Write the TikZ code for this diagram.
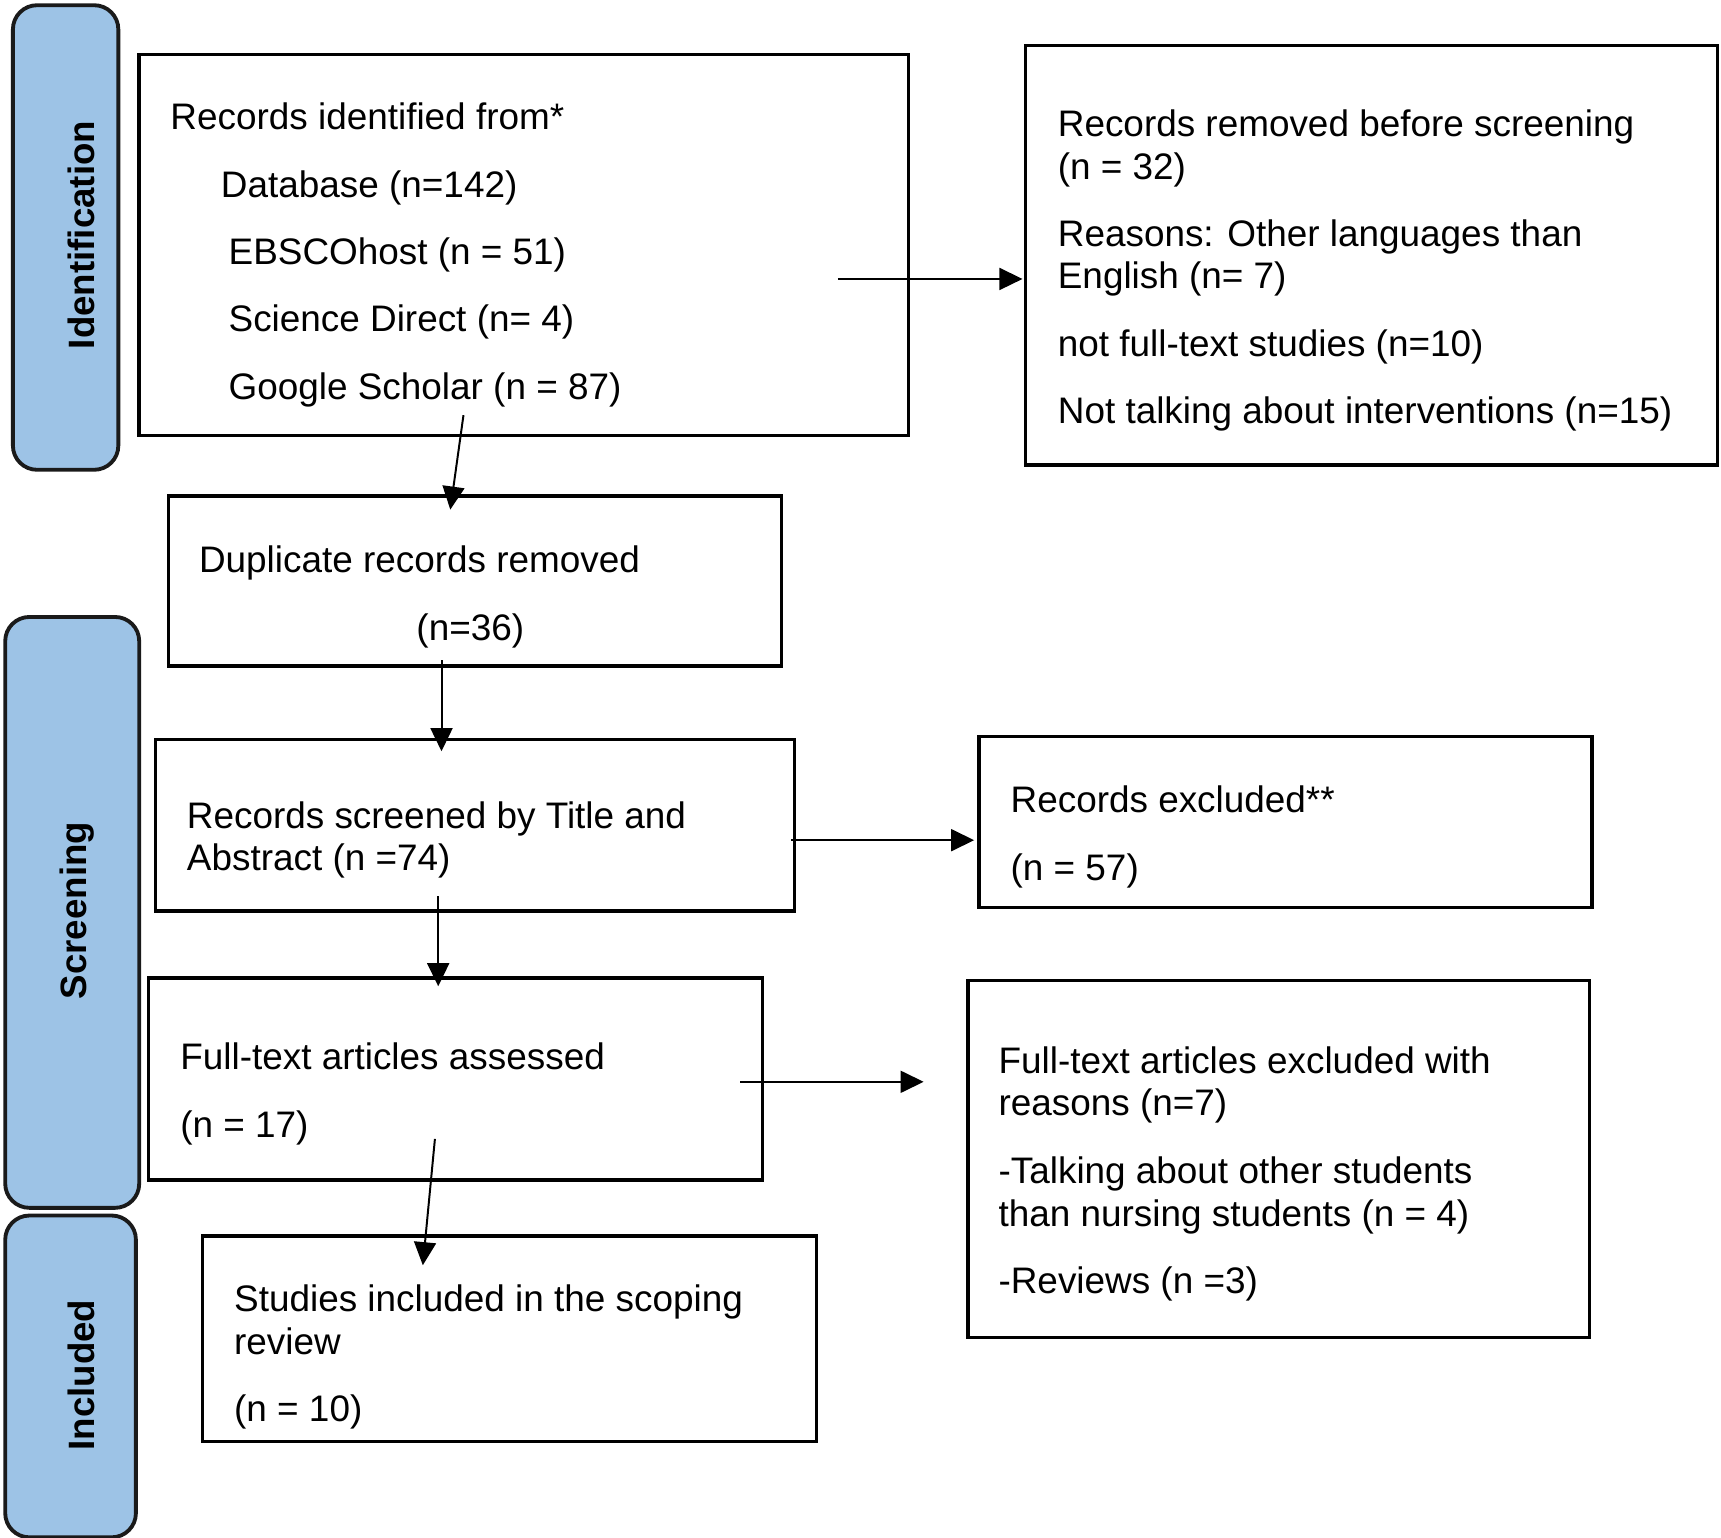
\documentclass[tikz,border=0pt]{standalone}
\usepackage{fontspec}
\setmainfont{Liberation Sans}
\usetikzlibrary{arrows.meta}
\definecolor{pillblue}{HTML}{9DC3E6}
\definecolor{pillline}{HTML}{1A1A1A}
\begin{document}
\begin{tikzpicture}[x=1pt,y=-1pt,
  box/.style={draw=black, line width=3pt, fill=white, inner sep=0pt, anchor=north west},
  pill/.style={draw=pillline, line width=3.5pt, fill=pillblue, rounded corners=22pt, inner sep=0pt, anchor=north west},
  txt/.style={inner sep=0pt, anchor=base west, font=\fontsize{33.6}{40}\selectfont},
  lbl/.style={inner sep=0pt, anchor=base, rotate=90, font=\fontsize{33.4}{40}\selectfont\bfseries},
  arr/.style={line width=1.8pt, -{Triangle[length=21pt,width=20pt]}}]
\useasboundingbox (0,0) rectangle (1567,1399.5);

% stage pills
\node[pill, minimum width=96pt, minimum height=423pt] (pid) at (10,3) {};
\node[pill, minimum width=122pt, minimum height=538pt] (psc) at (3,560) {};
\node[pill, minimum width=119pt, minimum height=293pt] (pin) at (3,1105) {};
\node[lbl] (lid) at (86,214) {Identification};
\node[lbl] (lsc) at (79,829) {Screening};
\node[lbl] (lin) at (86,1252) {Included};

% boxes
\node[box, minimum width=701pt, minimum height=347pt] (ident) at (125,48) {};
\node[box, minimum width=630pt, minimum height=382pt] (removed) at (932,40) {};
\node[box, minimum width=558pt, minimum height=155pt] (dup) at (152,450) {};
\node[box, minimum width=582pt, minimum height=156pt] (screen) at (140,672) {};
\node[box, minimum width=558pt, minimum height=156pt] (excl) at (890,669) {};
\node[box, minimum width=559pt, minimum height=184pt] (full) at (134,889) {};
\node[box, minimum width=566pt, minimum height=325pt] (exclr) at (880,891) {};
\node[box, minimum width=559pt, minimum height=187pt] (incl) at (183,1124) {};

% texts
\node[txt] (t11) at (155,118) {Records identified from*};
\node[txt] (t12) at (201,180) {Database (n=142)};
\node[txt] (t13) at (208,241) {EBSCOhost (n = 51)};
\node[txt] (t14) at (208,302) {Science Direct (n= 4)};
\node[txt] (t15) at (208,364) {Google Scholar (n = 87)};

\node[txt] (t21) at (963,124) {Records removed before screening};
\node[txt] (t22) at (963,163) {(n = 32)};
\node[txt] (t23) at (963,224) {Reasons: Other languages than};
\node[txt] (t24) at (963,263) {English (n= 7)};
\node[txt] (t25) at (963,325) {not full-text studies (n=10)};
\node[txt] (t26) at (963,386) {Not talking about interventions (n=15)};

\node[txt] (t31) at (181,521) {Duplicate records removed};
\node[txt] (t32) at (379,583) {(n=36)};

\node[txt] (t41) at (170,754) {Records screened by Title and};
\node[txt] (t42) at (170,793) {Abstract (n =74)};

\node[txt] (t51) at (920,740) {Records excluded**};
\node[txt] (t52) at (920,802) {(n = 57)};

\node[txt] (t61) at (164,974) {Full-text articles assessed};
\node[txt] (t62) at (164,1036) {(n = 17)};

\node[txt] (t71) at (909,977) {Full-text articles excluded with};
\node[txt] (t72) at (909,1016) {reasons (n=7)};
\node[txt] (t73) at (909,1078) {-Talking about other students};
\node[txt] (t74) at (909,1117) {than nursing students (n = 4)};
\node[txt] (t75) at (909,1178) {-Reviews (n =3)};

\node[txt] (t81) at (213,1194) {Studies included in the scoping};
\node[txt] (t82) at (213,1233) {review};
\node[txt] (t83) at (213,1294) {(n = 10)};

% connectors
\coordinate (a1s) at (422,378); \coordinate (a1e) at (410,464);
\coordinate (a2s) at (763,254); \coordinate (a2e) at (931,254);
\coordinate (a3s) at (402,601); \coordinate (a3e) at (402,684);
\coordinate (a4s) at (720,765); \coordinate (a4e) at (887,765);
\coordinate (a5s) at (399,816); \coordinate (a5e) at (399,898);
\coordinate (a6s) at (674,985); \coordinate (a6e) at (841,985);
\coordinate (a7s) at (396,1037); \coordinate (a7e) at (385,1152);
\draw[arr] (a1s) -- (a1e);
\draw[arr] (a2s) -- (a2e);
\draw[arr] (a3s) -- (a3e);
\draw[arr] (a4s) -- (a4e);
\draw[arr] (a5s) -- (a5e);
\draw[arr] (a6s) -- (a6e);
\draw[arr] (a7s) -- (a7e);
\end{tikzpicture}
\end{document}
